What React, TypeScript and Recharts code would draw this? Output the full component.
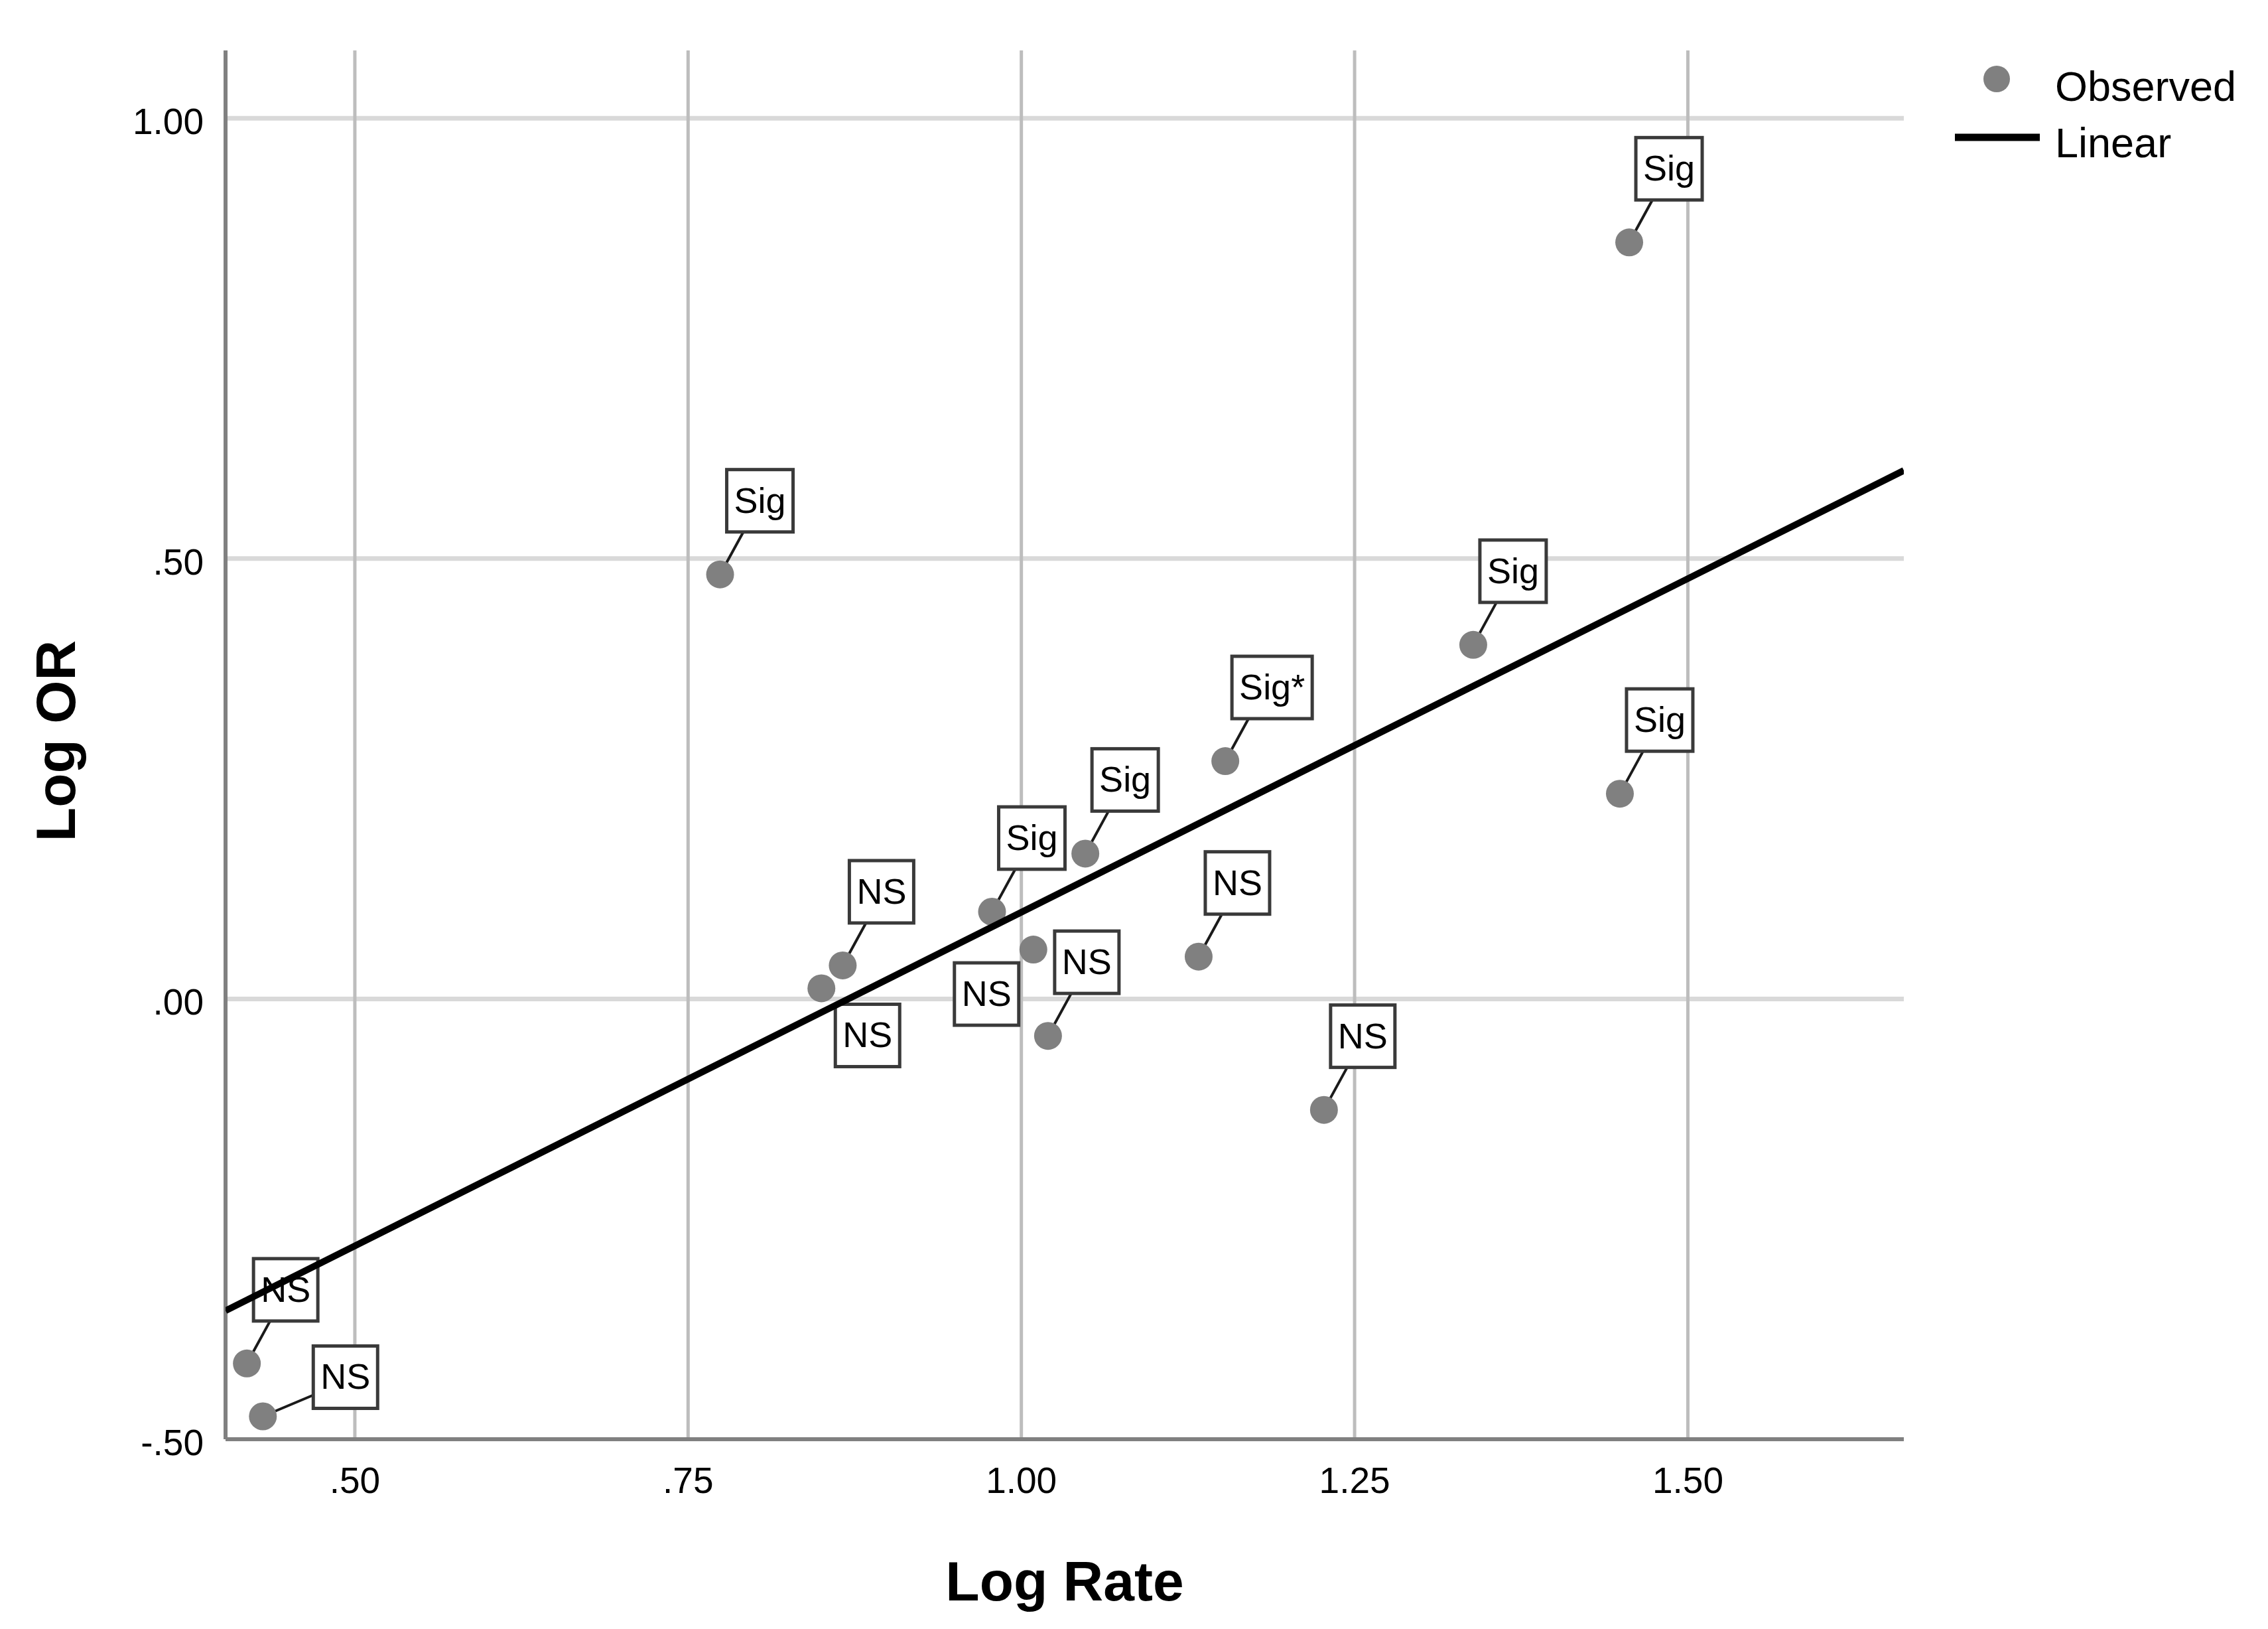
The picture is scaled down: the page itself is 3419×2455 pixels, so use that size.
import React from 'react';
import { ScatterChart, Scatter, XAxis, YAxis, ReferenceLine, Legend } from 'recharts';

// observed points: log rate (x) vs log odds ratio (y)
const logRate = [0.419, 0.431, 0.774, 0.85, 0.866, 0.978, 1.009, 1.02, 1.048, 1.133, 1.153, 1.227, 1.339, 1.449, 1.456];
const logOR = [-0.414, -0.474, 0.482, 0.012, 0.038, 0.099, 0.056, -0.042, 0.165, 0.048, 0.27, -0.126, 0.402, 0.233, 0.859];
const sigLabels = ['NS', 'NS', 'Sig', 'NS', 'NS', 'Sig', 'NS', 'NS', 'Sig', 'NS', 'Sig*', 'NS', 'Sig', 'Sig', 'Sig'];
// where each label box sits relative to its point
const labelSide = ['up', 'right', 'up', 'downRight', 'up', 'up', 'downLeft', 'up', 'up', 'up', 'up', 'up', 'up', 'up', 'up'];

// fitted linear line, read at the plot edges
const fitX = [0.403, 1.662];
const fitY = [-0.354, 0.6];

const xTicks = [0.5, 0.75, 1, 1.25, 1.5];
const yTicks = [-0.5, 0, 0.5, 1];
const xDomain = [0.403, 1.662];
const yDomain = [-0.5, 1.077];

const points = logRate.map((x, i) => ({ x, y: logOR[i], label: sigLabels[i], side: labelSide[i] }));
const fitLine = fitX.map((x, i) => ({ x, y: fitY[i] }));

const FONT = '"Liberation Sans", Arial, sans-serif';
const POINT_COLOR = '#808080';
const CHAR_W: Record<string, number> = { N: 0.722, S: 0.667, i: 0.222, g: 0.556, '*': 0.389 };
const LABEL_FONT = 54;
const BOX_H = 94;

const fmt = (v: number) => v.toFixed(2).replace(/^(-?)0\./, '$1.');

const boxWidth = (s: string) =>
  Math.round(s.split('').reduce((w, c) => w + (CHAR_W[c] ?? 0.556), 0) * LABEL_FONT + 22);

const PointWithLabel = (props: any) => {
  const { cx, cy, payload } = props;
  if (cx == null || cy == null) return <g />;
  const w = boxWidth(payload.label);
  let left = cx + 10;
  let top = cy - 64 - BOX_H;
  let leader: number[] | null = [left + 25, cy - 64];
  if (payload.side === 'right') {
    left = cx + 76;
    top = cy - 12 - BOX_H;
    leader = [left, cy - 32];
  } else if (payload.side === 'downRight') {
    left = cx + 21;
    top = cy + 24;
    leader = null;
  } else if (payload.side === 'downLeft') {
    left = cx - 22 - w;
    top = cy + 20;
    leader = null;
  }
  return (
    <g>
      {leader && <line x1={leader[0]} y1={leader[1]} x2={cx} y2={cy} stroke="#1a1a1a" strokeWidth={4} />}
      <circle cx={cx} cy={cy} r={21} fill={POINT_COLOR} />
      <rect x={left} y={top} width={w} height={BOX_H} fill="#fff" stroke="#3a3a3a" strokeWidth={5} />
      <text x={left + w / 2} y={top + 65} textAnchor="middle" fontFamily={FONT} fontSize={LABEL_FONT} fill="#000">
        {payload.label}
      </text>
    </g>
  );
};

const XTick = (props: any) => (
  <text x={props.x} y={props.y + 81} textAnchor="middle" fontFamily={FONT} fontSize={55} fill="#000">
    {fmt(props.payload.value)}
  </text>
);

const YTick = (props: any) => (
  <text x={props.x} y={props.y + 24} textAnchor="end" fontFamily={FONT} fontSize={55} fill="#000">
    {fmt(props.payload.value)}
  </text>
);

const LegendBox = () => (
  <svg width={480} height={190}>
    <circle cx={80} cy={49} r={20} fill={POINT_COLOR} />
    <text x={168} y={82} fontFamily={FONT} fontSize={63} fill="#000">Observed</text>
    <line x1={17} y1={137} x2={145} y2={137} stroke="#000" strokeWidth={11} />
    <text x={168} y={167} fontFamily={FONT} fontSize={63} fill="#000">Linear</text>
  </svg>
);

export default function App() {
  return (
    <div style={{ position: 'absolute', left: 0, top: 0, width: 3419, height: 2455, background: '#fff' }}>
      <ScatterChart width={3419} height={2455} margin={{ top: 76, right: 549, bottom: 186, left: 40 }}>
        {yTicks
          .filter((t) => t > yDomain[0])
          .map((t) => (
            <ReferenceLine key={`h${t}`} y={t} stroke="#d9d9d9" strokeWidth={7} />
          ))}
        {xTicks.map((t) => (
          <ReferenceLine key={`v${t}`} x={t} stroke="#bdbdbd" strokeWidth={5} />
        ))}
        <XAxis
          dataKey="x"
          type="number"
          domain={xDomain}
          ticks={xTicks}
          allowDataOverflow
          height={100}
          tickSize={0}
          tickMargin={0}
          tickLine={false}
          axisLine={{ stroke: '#808080', strokeWidth: 6 }}
          tick={<XTick />}
          label={(p: any) => {
            const vb = p.viewBox || { x: 340, y: 2169, width: 2530 };
            return (
              <text x={vb.x + vb.width / 2} y={vb.y + 243} textAnchor="middle" fontFamily={FONT} fontWeight={700} fontSize={84} fill="#000">
                Log Rate
              </text>
            );
          }}
        />
        <YAxis
          dataKey="y"
          type="number"
          domain={yDomain}
          ticks={yTicks}
          allowDataOverflow
          width={300}
          tickSize={0}
          tickMargin={33}
          tickLine={false}
          axisLine={{ stroke: '#808080', strokeWidth: 6 }}
          tick={<YTick />}
          label={(p: any) => {
            const vb = p.viewBox || { x: 40, y: 76, height: 2093 };
            const tx = vb.x + 73;
            const ty = vb.y + vb.height / 2 - 6;
            return (
              <text x={tx} y={ty} transform={`rotate(-90, ${tx}, ${ty})`} textAnchor="middle" fontFamily={FONT} fontWeight={700} fontSize={84} fill="#000">
                Log OR
              </text>
            );
          }}
        />
        <Legend
          layout="vertical"
          align="center"
          verticalAlign="middle"
          content={<LegendBox />}
          wrapperStyle={{ position: 'absolute', left: 2930, top: 70, width: 480, height: 190 }}
        />
        <Scatter name="Observed" data={points} shape={<PointWithLabel />} isAnimationActive={false} />
        <Scatter
          name="Linear"
          data={fitLine}
          line={{ stroke: '#000', strokeWidth: 10 }}
          shape={() => <g />}
          legendType="none"
          isAnimationActive={false}
        />
      </ScatterChart>
    </div>
  );
}
